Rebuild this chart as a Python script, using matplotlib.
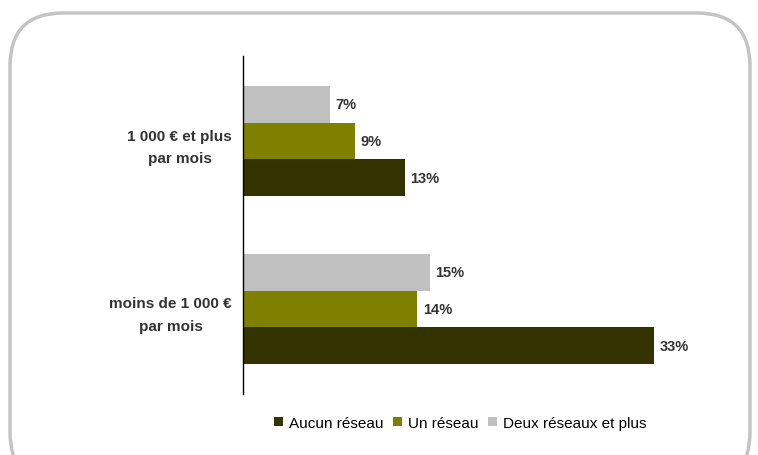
import matplotlib.pyplot as plt
from matplotlib.patches import FancyBboxPatch

categories = ['moins de 1 000 €\npar mois', '1 000 € et plus\npar mois']
series = ['Aucun réseau', 'Un réseau', 'Deux réseaux et plus']
aucun = [33, 13]
un = [14, 9]
deux = [15, 7]
colors = ['#333300', '#808000', '#c0c0c0']

plt.rcParams['font.family'] = ['Liberation Sans', 'DejaVu Sans']

fig = plt.figure(figsize=(7.58, 4.56), dpi=100)

# cadre arrondi
box = FancyBboxPatch((10 / 758, -30 / 456), 740 / 758, 472 / 456,
                     boxstyle='round,pad=0,rounding_size=0.07',
                     transform=fig.transFigure, facecolor='none',
                     edgecolor='#c4c4c4', linewidth=2.5, mutation_aspect=758 / 456,
                     zorder=-1)
fig.patches.append(box)

ax = fig.add_axes([243 / 758, (456 - 395) / 456, 436 / 758, 338 / 456])
ax.set_facecolor('none')

h = 0.22
y = range(len(categories))
offsets = [-h, 0, h]
for vals, name, col, off in zip([aucun, un, deux], series, colors, offsets):
    pos = [i + off for i in y]
    ax.barh(pos, vals, height=h, color=col, label=name)
    for p, v in zip(pos, vals):
        ax.text(v + 0.45, p, f'{v}%', va='center', ha='left',
                fontsize=10.5, fontweight='bold', color='#333333')

ax.set_xlim(0, 35)
ax.set_ylim(-0.506, 1.506)
ax.set_xticks([])
ax.set_yticks(list(y))
ax.set_yticklabels(categories, fontsize=11, fontweight='bold', color='#333333',
                   ha='right', multialignment='center', linespacing=1.8)
ax.tick_params(axis='y', length=0, pad=8)
for s in ['top', 'right', 'bottom']:
    ax.spines[s].set_visible(False)
ax.spines['left'].set_linewidth(1)

handles, labels = ax.get_legend_handles_labels()
fig.legend(handles, labels, loc='center', bbox_to_anchor=(460 / 758, (456 - 424) / 456),
           ncol=3, frameon=False, fontsize=11, handlelength=0.6, handleheight=0.6,
           handletextpad=0.4, columnspacing=0.6)

fig.savefig('out.png', dpi=100)
